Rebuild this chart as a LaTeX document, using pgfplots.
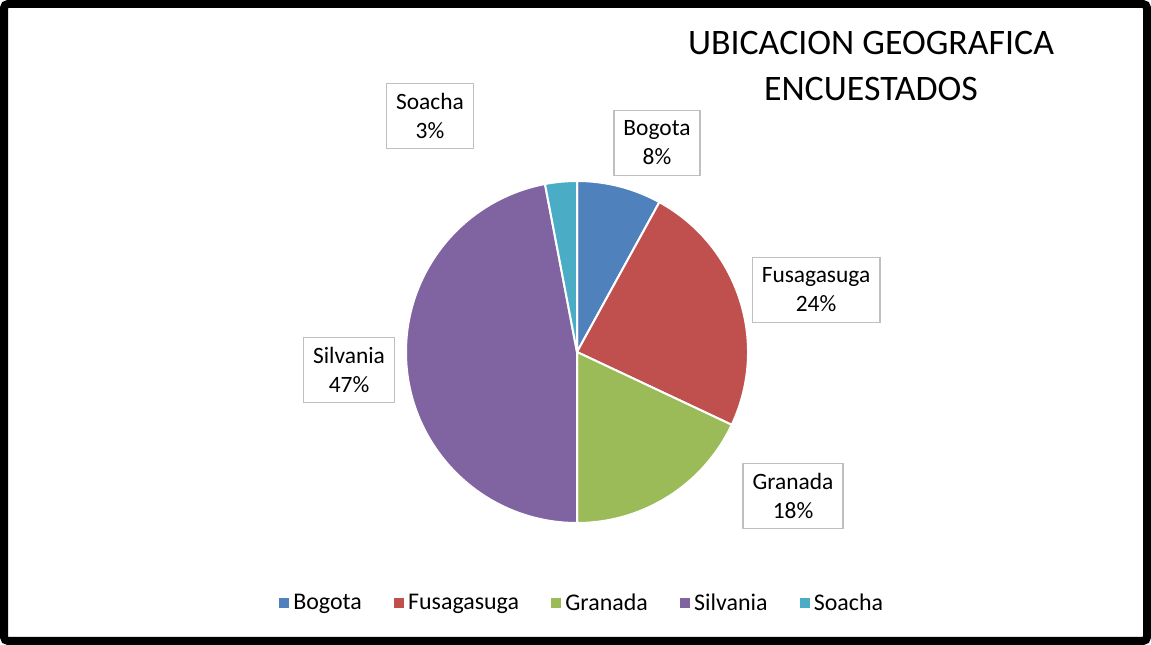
\documentclass[border=0pt]{standalone}
\usepackage{fontspec}
\setmainfont{Carlito}
\usepackage{pgfplots}
\usepackage{pgfplotstable}
\pgfplotsset{compat=1.18}

\definecolor{c0}{HTML}{4F81BD}
\definecolor{c1}{HTML}{C0504D}
\definecolor{c2}{HTML}{9BBB59}
\definecolor{c3}{HTML}{8064A2}
\definecolor{c4}{HTML}{4BACC6}

% ubicacion de los encuestados (%), posicion de la etiqueta en px
\pgfplotstableread{
name value lx ly
Bogota 8 657 502
Fusagasuga 24 816 355
Granada 18 793 149
Silvania 47 349 275
Soacha 3 430 529
}\piedata

\begin{document}
\begin{tikzpicture}
\begin{axis}[
    x=1bp, y=1bp,
    xmin=0, xmax=1151, ymin=0, ymax=645,
    scale only axis,
    hide axis,
    clip=false,
    legend columns=5,
    legend style={
        at={(axis cs:582,42)}, anchor=center,
        draw=none, fill=none,
        font=\fontsize{24}{28}\selectfont,
        /tikz/every even column/.append style={column sep=30bp},
        /tikz/every odd column/.append style={column sep=3bp},
    },
    legend image code/.code={
        \fill[#1] (0bp,-4.5bp) rectangle (9bp,4.5bp);
    },
]
\draw[line width=8bp, rounded corners=4bp] (axis cs:4,4) rectangle (axis cs:1147,641);

\pgfmathsetmacro\startang{90}
\pgfplotsforeachungrouped \i in {0,...,4}{
    \pgfplotstablegetelem{\i}{value}\of\piedata
    \let\val=\pgfplotsretval
    \pgfmathsetmacro\endang{\startang-3.6*\val}
    \pgfplotstablegetelem{\i}{name}\of\piedata
    \let\nm=\pgfplotsretval
    \pgfplotstablegetelem{\i}{lx}\of\piedata
    \let\lx=\pgfplotsretval
    \pgfplotstablegetelem{\i}{ly}\of\piedata
    \let\ly=\pgfplotsretval
    \edef\slice{%
        \noexpand\fill[c\i, draw=white, line width=2bp, line join=round]
            (axis cs:577,293) -- ([shift={(\startang:171bp)}]axis cs:577,293)
            arc[start angle=\startang, end angle=\endang, radius=171bp] -- cycle;
        \noexpand\node[draw=black!25, line width=1.5bp, fill=white, align=center,
            inner xsep=9.5bp, minimum height=65bp,
            font=\noexpand\fontsize{23.5}{29}\noexpand\selectfont]
            at (axis cs:\lx,\ly) {\nm\noexpand\\\val\noexpand\%};
    }
    \slice
    \global\let\startang\endang
}

\addlegendimage{c0}\addlegendentry{Bogota}
\addlegendimage{c1}\addlegendentry{Fusagasuga}
\addlegendimage{c2}\addlegendentry{Granada}
\addlegendimage{c3}\addlegendentry{Silvania}
\addlegendimage{c4}\addlegendentry{Soacha}

\node[align=center, font=\fontsize{36}{47}\selectfont]
    at (axis cs:871,579) {UBICACION GEOGRAFICA\\ENCUESTADOS};
\end{axis}
\end{tikzpicture}
\end{document}
